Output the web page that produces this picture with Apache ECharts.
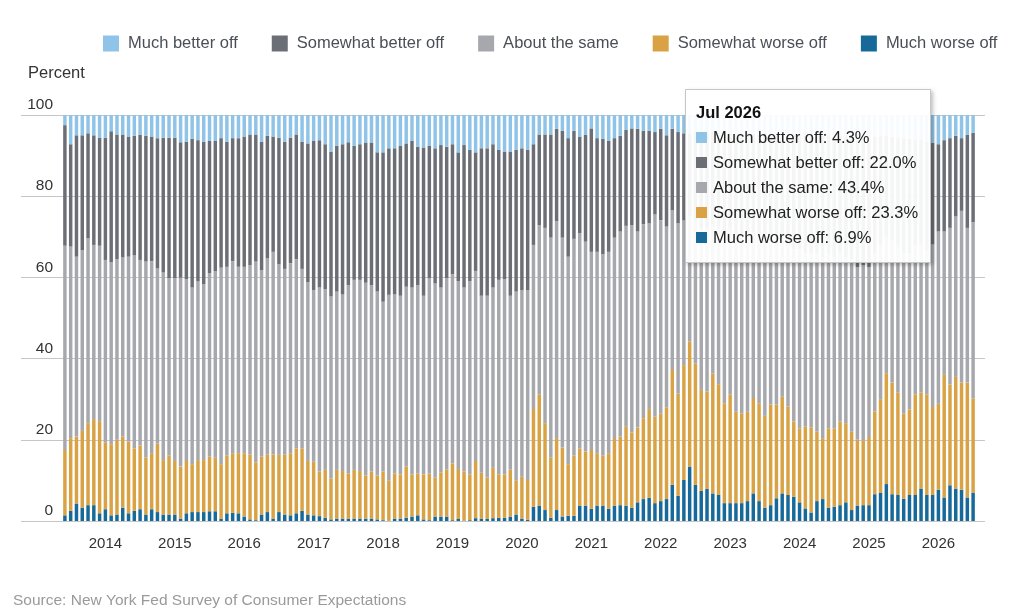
<!DOCTYPE html>
<html lang="en">
<head>
  <meta charset="UTF-8">
  <title>Financial situation compared to a year ago</title>
  <script type="text/javascript" src="https://cdn.jsdelivr.net/npm/echarts@6/dist/echarts.min.js"></script>
  <style>
    html, body { margin: 0; padding: 0; background: #fff; }
  </style>
</head>
<body>
<div id="main" style="width: 1009px;height:610px;"></div>
<script type="text/javascript">
  // monthly survey shares, Jun 2013 .. Jul 2026 (percent)
  var muchWorse = [
    1.4,2.5,4.3,3.3,3.9,3.9,1.9,2.9,1.4,1.6,
    3.3,1.9,2.5,2.9,1.6,2.9,2.2,1.6,1.6,1.6,
    0.6,1.9,2.2,2.2,2.2,2.4,2.4,0.6,1.9,2.0,
    1.9,1.1,0.4,0.2,1.6,2.2,0.6,2.2,1.6,1.4,
    1.9,2.5,1.6,1.4,1.2,0.8,0.4,0.6,0.6,0.6,
    0.6,0.6,0.6,0.6,0.4,0.2,0.1,0.6,0.6,0.8,
    1.1,1.4,0.4,0.2,1.1,1.1,1.1,0.2,0.5,0.1,
    0.2,0.7,0.5,0.5,0.7,0.8,0.8,1.1,1.6,0.6,
    0.3,3.5,3.8,2.7,0.8,2.7,1.1,1.3,1.3,3.8,
    3.8,3.0,3.8,3.8,3.0,3.8,3.9,3.8,3.3,4.6,
    5.4,5.7,4.4,4.9,5.4,8.9,6.2,10.1,13.4,8.9,
    7.4,7.9,6.8,6.4,4.4,4.4,4.4,4.4,4.9,6.8,
    4.9,3.3,3.9,5.6,6.8,6.4,6.0,4.6,3.1,2.1,
    4.9,5.4,3.3,3.5,3.9,4.6,2.7,3.8,3.9,3.9,
    6.6,6.9,9.1,6.6,6.4,5.5,6.4,6.4,8.0,6.4,
    6.4,7.7,5.8,8.8,8.0,7.7,5.8,6.9
  ];
  var somewhatWorse = [
    16.1,17.9,16.5,18.9,20.2,21.2,22.7,16.5,17.5,18.4,
    17.5,17.6,15.4,15.7,14.0,13.8,16.9,13.4,14.5,13.2,
    12.8,12.9,11.8,12.8,12.8,13.5,13.2,13.4,14.2,14.7,
    14.8,15.6,16.0,14.2,14.2,14.2,15.8,14.1,14.8,15.3,
    16.0,15.4,13.2,13.2,11.0,11.8,10.1,12.0,11.7,11.1,
    12.0,11.7,10.6,11.6,10.8,12.0,9.8,11.1,10.9,12.6,
    10.4,10.3,11.1,11.5,9.6,10.9,11.5,14.0,12.3,12.1,
    11.3,14.1,11.4,10.2,12.4,10.7,10.7,11.5,8.3,10.3,
    9.8,24.1,27.4,21.4,14.8,17.7,17.0,12.7,14.8,14.1,
    13.3,14.5,12.9,12.3,13.7,16.4,16.9,19.4,18.5,18.4,
    19.9,21.9,21.3,21.6,22.5,28.3,25.2,28.3,30.8,29.9,
    24.9,24.0,29.5,27.3,24.6,26.8,22.5,22.1,22.0,23.5,
    24.1,22.6,24.8,23.1,23.8,21.8,18.5,18.2,20.1,20.9,
    17.1,15.0,19.5,19.3,20.6,19.5,19.3,16.2,15.9,16.8,
    20.4,23.1,27.3,27.5,25.3,20.9,21.1,24.8,23.7,24.8,
    21.7,21.2,30.2,24.8,27.5,26.4,28.3,23.3
  ];
  var aboutSame = [
    50.3,47.2,44.3,44.5,45.5,42.9,43.2,44.9,44.8,44.5,
    44.1,45.6,47.6,45.7,48.3,47.3,43.1,46.2,43.7,45.0,
    46.5,44.8,43.5,44.0,43.3,45.1,46.0,48.4,46.5,47.3,
    45.9,45.9,46.6,49.5,46.0,48.3,49.9,46.9,45.7,46.8,
    46.6,44.2,44.0,42.3,45.3,44.5,44.8,43.9,43.5,46.4,
    46.8,47.1,47.5,45.9,45.3,41.8,45.8,44.1,44.0,44.3,
    46.0,46.4,44.0,48.1,47.8,45.5,47.2,46.6,46.3,45.3,
    47.6,46.8,43.6,44.8,44.4,47.9,48.1,42.9,46.6,46.0,
    46.8,40.4,41.7,48.1,54.2,53.5,51.7,51.1,53.4,53.0,
    51.7,48.8,49.6,49.6,49.6,49.6,50.5,49.5,51.1,48.3,
    47.8,45.7,49.8,47.6,44.6,39.4,41.9,35.6,30.8,35.2,
    39.7,40.1,36.7,38.3,42.0,40.8,43.1,43.5,44.1,40.7,
    41.0,43.1,41.3,40.3,39.4,39.8,42.5,44.2,42.8,43.0,
    44.0,44.6,43.2,42.2,41.5,40.9,42.5,42.5,43.2,41.8,
    39.0,38.0,33.6,34.9,36.3,39.6,38.5,36.8,36.3,35.8,
    40.0,42.4,35.3,38.6,39.5,42.3,38.1,43.4
  ];
  var somewhatBetter = [
    29.7,25.2,29.9,28.3,25.9,27.0,26.6,30.1,32.3,30.7,
    30.3,29.6,29.4,30.8,31.0,30.7,32.1,33.2,34.6,34.6,
    33.4,33.8,36.6,34.8,35.1,32.6,32.0,31.9,30.8,30.3,
    31.7,32.1,32.2,31.3,31.6,30.2,28.4,31.2,31.3,30.9,
    30.7,31.3,34.2,36.7,36.3,35.7,35.7,35.9,37.0,35.2,
    33.0,33.4,34.5,35.1,34.3,36.8,36.1,36.0,36.9,35.3,
    36.1,34.1,36.5,32.6,33.3,35.1,32.4,32.0,31.7,35.1,
    32.3,29.2,36.3,36.3,35.3,32.0,31.4,35.5,34.9,34.9,
    34.5,24.8,22.3,23.0,25.4,22.7,26.3,29.2,26.6,23.8,
    26.3,30.4,28.0,28.4,27.3,24.5,23.6,23.6,23.8,25.3,
    23.0,22.8,20.3,22.5,22.5,20.0,22.5,21.5,20.5,21.8,
    23.5,23.5,22.6,23.2,24.5,23.7,25.3,25.5,24.6,24.4,
    25.2,26.5,25.3,26.0,25.5,27.2,28.0,28.4,29.1,28.8,
    29.0,29.9,29.2,29.8,29.0,29.6,30.0,31.8,31.4,31.7,
    28.6,26.8,25.0,25.7,26.5,28.3,28.2,26.0,25.8,26.5,
    25.1,21.5,22.5,22.1,19.9,17.9,22.9,22.0
  ];
  var muchBetter = [
    2.5,7.2,5.0,5.0,4.5,5.0,5.6,5.6,4.0,4.8,
    4.8,5.3,5.1,4.9,5.1,5.3,5.7,5.6,5.6,5.6,
    6.7,6.6,5.9,6.2,6.6,6.4,6.4,5.7,6.6,5.7,
    5.7,5.3,4.8,4.8,6.6,5.1,5.3,5.6,6.6,5.6,
    4.8,6.6,7.0,6.4,6.2,7.2,9.0,7.6,7.2,6.7,
    7.6,7.2,6.8,6.8,9.2,9.2,8.2,8.2,7.6,7.0,
    6.4,7.8,8.0,7.6,8.2,7.4,7.8,7.2,9.2,7.4,
    8.6,9.2,8.2,8.2,7.2,8.6,9.0,9.0,8.6,8.2,
    8.6,7.2,4.8,4.8,4.8,3.4,3.9,5.7,3.9,5.3,
    4.9,3.3,5.7,5.9,6.4,5.7,5.1,3.7,3.3,3.4,
    3.9,3.9,4.2,3.4,5.0,3.4,4.2,4.5,4.5,4.2,
    4.5,4.5,4.4,4.8,4.5,4.3,4.7,4.5,4.4,4.6,
    4.8,4.5,4.7,5.0,4.5,4.8,5.0,4.6,4.9,5.2,
    5.0,5.1,4.8,5.2,5.0,5.4,5.5,5.7,5.6,5.8,
    5.4,5.2,5.0,5.3,5.5,5.7,5.8,6.0,6.2,6.5,
    6.8,7.2,6.2,5.7,5.1,5.7,4.9,4.3
  ];
  var seriesNames = ['Much better off', 'Somewhat better off', 'About the same', 'Somewhat worse off', 'Much worse off'];
  var seriesColors = ['#8fc3e8', '#6b6f75', '#a7a8ad', '#d9a345', '#17699a'];
  var yTicks = [0, 20, 40, 60, 80, 100];

  // month labels, first survey month is Jun 2013
  var monthNames = ['Jan','Feb','Mar','Apr','May','Jun','Jul','Aug','Sep','Oct','Nov','Dec'];
  var months = [];
  for (var i = 0; i < muchWorse.length; i++) {
    var m = 5 + i;
    months.push(monthNames[m % 12] + ' ' + (2013 + Math.floor(m / 12)));
  }

  var font = 'Arial, "Liberation Sans", Helvetica, sans-serif';
  var myChart = echarts.init(document.getElementById('main'));

  var stackData = [muchWorse, somewhatWorse, aboutSame, somewhatBetter, muchBetter];
  var series = [];
  for (var s = 0; s < stackData.length; s++) {
    var idx = seriesNames.length - 1 - s;
    series.push({
      name: seriesNames[idx],
      type: 'bar',
      stack: 'total',
      xAxisIndex: 1,
      yAxisIndex: 1,
      barWidth: '60%',
      itemStyle: { color: seriesColors[idx] },
      emphasis: { disabled: true },
      data: stackData[s]
    });
  }

  myChart.setOption({
    animation: false,
    textStyle: { fontFamily: font },
    title: [
      {
        text: 'Percent',
        left: 28, top: 65, padding: 0,
        textStyle: { fontSize: 16.5, fontWeight: 'normal', color: '#333', fontFamily: font }
      },
      {
        text: 'Source: New York Fed Survey of Consumer Expectations',
        left: 13, top: 593, padding: 0,
        textStyle: { fontSize: 15.5, fontWeight: 'normal', color: '#9a9a9a', fontFamily: font }
      }
    ],
    legend: {
      data: seriesNames,
      left: 103, top: 35, padding: 0,
      itemWidth: 16, itemHeight: 16, itemGap: 34,
      icon: 'rect',
      selectedMode: false,
      textStyle: { fontSize: 16.5, color: '#4a4f57', fontFamily: font, padding: [0, 0, 0, 4] }
    },
    tooltip: {
      trigger: 'axis',
      triggerOn: 'none',
      alwaysShowContent: true,
      transitionDuration: 0,
      position: [685, 89],
      axisPointer: { type: 'none' },
      backgroundColor: 'rgba(255,255,255,0.93)',
      borderColor: '#c8c8c8',
      borderWidth: 1,
      padding: [10, 12, 12, 10],
      extraCssText: 'box-shadow: 2px 2px 4px rgba(0,0,0,0.25); border-radius: 0;',
      textStyle: { fontSize: 16.5, color: '#222', fontFamily: font },
      formatter: function (params) {
        var html = '<div style="font-weight:bold;line-height:25px;color:#111">' + params[0].axisValue + '</div>';
        params.slice().reverse().forEach(function (p) {
          html += '<div style="line-height:25px"><span style="display:inline-block;width:11px;height:11px;margin-right:6px;background:' +
            p.color + '"></span>' + p.seriesName + ': ' + p.value.toFixed(1) + '%</div>';
        });
        return html;
      }
    },
    grid: [
      { left: 21, right: 24, top: 115, bottom: 89 },
      { left: 62, right: 33, top: 115, bottom: 89 }
    ],
    xAxis: [
      { type: 'value', gridIndex: 0, show: false, min: 0, max: 1 },
      {
        type: 'category',
        gridIndex: 1,
        data: months,
        axisLine: { show: false },
        axisTick: { show: false },
        axisLabel: {
          interval: function (index, value) { return value.indexOf('Jan') === 0; },
          formatter: function (value) { return value.split(' ')[1]; },
          fontSize: 15, color: '#333', margin: 15, fontFamily: font
        }
      }
    ],
    yAxis: [
      {
        type: 'value',
        gridIndex: 0,
        min: yTicks[0], max: yTicks[yTicks.length - 1], interval: 20,
        axisLine: { show: false },
        axisTick: { show: false },
        splitLine: { lineStyle: { color: '#c6c6c6', width: 1 } },
        axisLabel: {
          inside: true, margin: 32, align: 'right', verticalAlign: 'bottom',
          padding: [0, 0, 2, 0],
          fontSize: 15.5, color: '#333', fontFamily: font
        }
      },
      { type: 'value', gridIndex: 1, min: 0, max: 100, show: false }
    ],
    series: series
  });

  myChart.dispatchAction({ type: 'showTip', seriesIndex: 0, dataIndex: muchWorse.length - 1 });
</script>
</body>
</html>
